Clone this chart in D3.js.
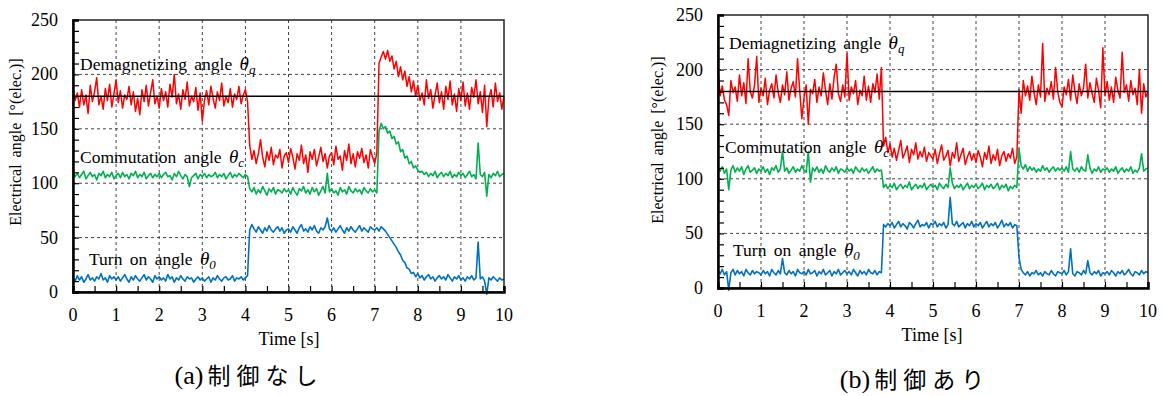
<!DOCTYPE html>
<html>
<head>
<meta charset="utf-8">
<script src="https://cdn.jsdelivr.net/npm/d3@7"></script>
<style>
  html, body { margin: 0; padding: 0; background: #fff; }
  svg { display: block; }
  .serif { font-family: "Liberation Serif", "Times New Roman", "DejaVu Serif", serif; }
  .cjk { font-family: "Noto Sans CJK JP", "Noto Sans CJK SC", sans-serif; }
</style>
</head>
<body>
<div id="chart"></div>
<script>
// sampled every 0.05 s, 0 .. 10 s
const timeS = d3.range(201).map(i => i * 0.05);
const xTicks = [0, 1, 2, 3, 4, 5, 6, 7, 8, 9, 10];
const yTicks = [0, 50, 100, 150, 200, 250];
const refAngle = 180;

// (a) without control
const thetaQ_a = [
  188,176,183,170,186,172,181,164,190,175,184,197,172,180,168,187,176,191,170,182,
  195,174,185,169,181,177,189,172,184,166,178,163,186,175,190,171,183,195,173,180,
  169,187,176,184,170,191,179,200,173,182,168,186,177,193,171,180,175,188,167,183,
  157,176,185,172,189,178,169,184,176,192,171,180,174,187,170,182,177,189,173,181,
  186,175,135,122,130,118,127,140,124,115,129,121,133,117,126,123,131,114,125,128,
  119,132,124,113,127,121,135,118,126,110,129,122,131,116,124,133,120,127,114,125,
  128,117,134,122,125,112,130,121,136,118,127,115,129,123,132,119,126,114,131,124,
  118,128,210,216,221,214,222,212,217,205,212,198,207,195,203,189,198,184,194,180,
  190,176,183,172,195,178,186,169,181,192,174,184,168,189,177,194,172,182,166,187,
  176,193,171,183,168,188,179,195,173,184,165,190,152,178,186,170,192,175,183,168,
  180];
const thetaC_a = [
  110,106,109,105,108,111,104,107,110,106,108,103,109,107,111,105,108,106,110,104,
  107,109,105,110,106,108,104,109,107,111,105,108,106,110,104,107,109,105,108,106,
  109,105,108,110,106,107,103,109,106,111,107,104,108,106,97,105,107,109,104,108,
  106,109,105,108,106,107,110,105,108,106,109,104,107,110,105,108,106,109,107,105,
  108,106,95,92,96,90,94,91,97,93,89,95,92,96,90,94,93,91,95,92,
  94,90,96,92,89,95,93,97,91,94,90,96,92,95,89,93,97,91,109,92,
  95,91,93,89,96,92,94,90,97,93,91,95,92,94,90,96,93,91,95,92,
  94,91,148,155,150,152,146,148,141,143,136,138,129,131,123,125,118,120,114,116,
  112,110,111,108,110,106,109,107,111,105,108,110,106,109,107,111,105,108,106,110,
  107,109,105,108,111,106,108,104,137,108,106,110,88,108,105,109,107,111,106,108,
  109];
const theta0_a = [
  13,10,15,11,14,9,12,16,11,13,10,14,12,17,11,13,9,15,12,14,
  11,14,10,13,16,12,9,14,11,15,12,10,13,16,11,14,12,9,15,12,
  14,11,13,10,16,12,14,9,13,11,15,12,10,14,12,13,9,12,14,11,
  13,10,12,14,9,13,11,15,12,10,13,14,11,12,15,10,13,12,14,11,
  13,15,57,62,58,55,60,57,54,59,56,61,57,55,58,60,56,59,54,57,
  58,55,60,57,54,59,62,56,58,55,60,57,61,56,54,59,57,60,68,58,
  56,59,55,58,61,57,54,59,56,60,57,55,58,61,56,59,57,55,60,58,
  57,59,56,60,58,56,53,50,47,44,41,37,34,29,27,22,21,17,18,14,
  17,13,15,11,14,16,12,14,10,13,15,12,14,11,16,13,10,14,12,15,
  11,13,10,14,12,15,11,13,46,12,14,10,-2,13,11,14,12,10,13,11,
  12];

// (b) with control
const thetaQ_b = [
  202,176,185,172,168,158,190,179,184,171,195,176,188,169,210,180,174,186,212,170,
  183,176,192,168,181,187,174,195,179,170,186,177,198,172,183,189,175,210,181,155,
  174,186,150,182,178,191,170,184,176,197,181,168,187,173,193,205,178,171,186,175,
  215,172,184,178,190,168,181,176,194,172,185,170,187,179,196,173,202,130,138,124,
  132,120,128,117,126,135,119,124,130,115,127,122,133,118,125,120,129,116,124,121,
  118,127,114,123,131,117,121,126,112,124,119,133,116,122,128,113,120,125,117,123,
  115,126,120,111,124,118,130,114,122,117,127,112,121,125,116,123,119,128,114,120,
  182,160,190,176,185,172,194,179,168,186,175,224,171,183,177,189,173,202,180,170,
  166,184,177,191,172,195,180,169,187,176,183,205,174,188,178,170,192,181,165,220,
  176,189,172,184,170,193,181,174,216,179,186,171,190,177,183,168,200,160,187,175,
  180];
const thetaC_b = [
  110,107,111,105,109,90,108,112,106,110,107,111,104,109,112,106,108,110,105,109,
  107,111,106,109,104,110,108,112,106,109,125,107,110,105,108,111,106,109,107,112,
  108,106,125,97,110,107,111,106,109,105,112,108,106,110,107,111,105,109,108,106,
  110,107,109,105,111,108,106,110,107,109,105,108,111,106,109,107,108,92,95,91,
  94,92,96,90,93,95,91,94,92,97,90,93,95,91,94,92,96,90,93,95,
  92,94,90,96,93,91,95,92,110,96,91,94,92,95,90,93,96,91,94,92,
  95,91,93,96,90,94,92,95,91,93,96,90,94,92,95,89,93,91,94,92,
  128,112,109,113,107,111,108,110,106,109,107,112,108,110,106,109,111,107,110,108,
  110,107,111,106,125,109,107,110,106,111,108,107,122,110,105,109,107,111,106,109,
  108,110,106,109,107,111,105,108,110,106,109,107,111,105,108,106,110,123,107,109,
  110];
const theta0_b = [
  16,13,17,12,15,-2,14,17,12,16,13,15,11,17,14,12,16,13,15,14,
  12,16,13,15,11,17,14,12,16,13,27,14,12,16,13,15,11,17,14,13,
  15,12,17,13,14,16,11,15,13,17,12,14,16,11,15,13,17,12,14,16,
  13,15,12,17,14,11,16,13,15,12,17,14,13,16,12,15,14,58,56,59,
  57,60,55,58,61,56,59,57,54,60,58,55,59,62,56,58,57,60,55,59,
  58,61,56,59,57,60,55,58,83,59,57,61,56,58,60,55,59,57,61,56,
  59,57,60,55,58,61,56,59,57,60,55,58,62,56,59,57,60,55,58,57,
  28,17,14,12,15,11,14,13,16,12,14,11,15,13,12,16,13,11,15,14,
  13,16,12,15,36,13,11,15,14,12,16,13,25,14,12,15,13,16,11,14,
  13,15,12,16,14,11,15,13,16,12,14,17,13,11,15,14,12,16,13,15,
  14];

const W = 1164, H = 396;

const svg = d3.select('#chart').append('svg').attr('width', W).attr('height', H);

const panels = [
  { left: 73, top: 20, right: 504, bottom: 292, q: thetaQ_a, c: thetaC_a, o: theta0_a,
    yLabX: 16, yLabY: 142, timeX: 289, timeY: 345, capX: 249, capY: 384, tag: '(a)', cap: '制御なし',
    lq: [80, 70], lc: [80, 163], lo: [89, 265] },
  { left: 718, top: 15, right: 1148, bottom: 288, q: thetaQ_b, c: thetaC_b, o: theta0_b,
    yLabX: 658, yLabY: 140, timeX: 932, timeY: 341, capX: 915, capY: 388, tag: '(b)', cap: '制御あり',
    lq: [729, 49], lc: [725, 153], lo: [733, 256] }
];

panels.forEach(p => {
  const x = d3.scaleLinear().domain([0, 10]).range([p.left, p.right]);
  const y = d3.scaleLinear().domain([0, 250]).range([p.bottom, p.top]);
  const g = svg.append('g');

  // dashed grid
  g.selectAll('.gx').data(xTicks.slice(1, -1)).enter().append('line')
    .attr('x1', d => x(d)).attr('x2', d => x(d)).attr('y1', p.top).attr('y2', p.bottom)
    .attr('stroke', '#444').attr('stroke-width', 1).attr('stroke-dasharray', '3,3');
  g.selectAll('.gy').data(yTicks.slice(1, -1)).enter().append('line')
    .attr('x1', p.left).attr('x2', p.right).attr('y1', d => y(d)).attr('y2', d => y(d))
    .attr('stroke', '#444').attr('stroke-width', 1).attr('stroke-dasharray', '3,3');

  const line = d3.line().x((d, i) => x(timeS[i])).y(d => y(d));
  const series = [[p.o, '#0070c0', 1.6], [p.c, '#00b050', 1.6], [p.q, '#ff0000', 1.5]];
  series.forEach(([vals, col, sw]) => {
    g.append('path').datum(vals).attr('d', line)
      .attr('fill', 'none').attr('stroke', col).attr('stroke-width', sw)
      .attr('stroke-linejoin', 'round');
  });

  // 180 deg reference line
  g.append('line').attr('x1', x(0)).attr('x2', x(10)).attr('y1', y(refAngle)).attr('y2', y(refAngle))
    .attr('stroke', '#000').attr('stroke-width', 1.5);

  // frame
  g.append('rect').attr('x', p.left).attr('y', p.top)
    .attr('width', p.right - p.left).attr('height', p.bottom - p.top)
    .attr('fill', 'none').attr('stroke', '#222').attr('stroke-width', 1.5);

  // axes, ticks inside
  const xAxis = d3.axisBottom(x).tickValues(d3.range(0, 10.01, 0.5)).tickSize(-6).tickFormat('');
  g.append('g').attr('transform', `translate(0,${p.bottom})`).call(xAxis)
    .call(a => a.select('.domain').attr('stroke-width', 2.5));
  const yAxis = d3.axisLeft(y).tickValues(d3.range(0, 251, 10)).tickSize(-6).tickFormat('');
  g.append('g').attr('transform', `translate(${p.left},0)`).call(yAxis)
    .call(a => a.select('.domain').attr('stroke-width', 2.5));
  g.selectAll('.tick line').attr('stroke', '#000').attr('stroke-width', 1.2);

  // tick labels
  g.selectAll('.xl').data(xTicks).enter().append('text').attr('class', 'serif')
    .attr('x', d => x(d)).attr('y', p.bottom + 29).attr('text-anchor', 'middle')
    .attr('font-size', 18).text(d => d);
  g.selectAll('.yl').data(yTicks).enter().append('text').attr('class', 'serif')
    .attr('x', p.left - 15).attr('y', d => y(d) + 6).attr('text-anchor', 'end')
    .attr('font-size', 18).text(d => d);

  g.append('text').attr('class', 'serif').attr('x', p.timeX).attr('y', p.timeY)
    .attr('text-anchor', 'middle').attr('font-size', 18).text('Time [s]');
  g.append('text').attr('class', 'serif')
    .attr('transform', `translate(${p.yLabX + 5},${p.yLabY}) rotate(-90)`)
    .attr('text-anchor', 'middle').attr('font-size', 16)
    .style('word-spacing', '3px').text('Electrical angle [°(elec.)]');

  // series annotations
  const ann = (pos, label, sub) => {
    const t = g.append('text').attr('class', 'serif').attr('x', pos[0]).attr('y', pos[1])
      .attr('font-size', 17.5).style('word-spacing', '3px');
    t.append('tspan').text(label + ' ');
    t.append('tspan').style('font-style', 'italic').attr('font-size', 19).text('θ');
    t.append('tspan').style('font-style', 'italic').attr('font-size', 13).attr('dy', 4).text(sub);
  };
  ann(p.lq, 'Demagnetizing angle', 'q');
  ann(p.lc, 'Commutation angle', 'c');
  ann(p.lo, 'Turn on angle', '0');

  // caption
  const cap = g.append('text').attr('x', p.capX).attr('y', p.capY).attr('text-anchor', 'middle');
  cap.append('tspan').attr('class', 'serif').attr('font-size', 26).text(p.tag);
  cap.append('tspan').attr('class', 'cjk').attr('font-size', 23)
    .style('letter-spacing', '6px').attr('dx', 4).text(p.cap);
});
</script>
</body>
</html>
